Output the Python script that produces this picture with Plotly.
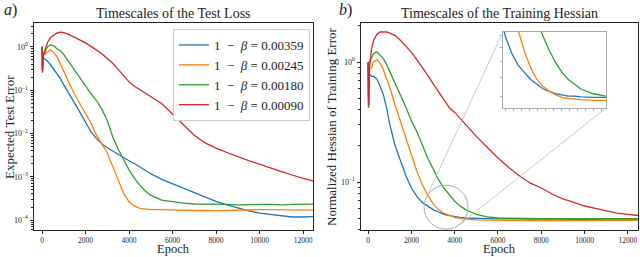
import math
import numpy as np
import plotly.graph_objects as go

# ---------------- data (log10 of the plotted values) ----------------
EPOCHS = [0, 20, 60, 150, 250, 400, 550, 700, 850, 1000, 1250, 1500, 1750, 2000,
          2250, 2500, 2750, 3000, 3250, 3500, 3750, 4000, 4250, 4500, 4750, 5000,
          5500, 6000, 6500, 7000, 7500, 8000, 8500, 9000, 9500, 10000, 10500,
          11000, 11500, 12000, 12500]

NB = "\u00a0"
LABELS = [f"1{NB}{NB}−{NB}{NB}<i>β</i>{NB}={NB}0.00359",
          f"1{NB}{NB}−{NB}{NB}<i>β</i>{NB}={NB}0.00245",
          f"1{NB}{NB}−{NB}{NB}<i>β</i>{NB}={NB}0.00180",
          f"1{NB}{NB}−{NB}{NB}<i>β</i>{NB}={NB}0.00090"]
COLORS = ["#1f77b4", "#ff7f0e", "#2ca02c", "#d62728"]

# Panel a) expected test error (log10)
TEST_LOG10_00359 = [0.0, -0.60, -0.26, -0.30, -0.33, -0.42, -0.52, -0.62, -0.74, -0.88,
                    -1.08, -1.30, -1.52, -1.75, -1.96, -2.12, -2.24, -2.33, -2.41, -2.48,
                    -2.56, -2.63, -2.70, -2.78, -2.86, -2.93, -3.06, -3.16, -3.26, -3.37,
                    -3.47, -3.57, -3.65, -3.72, -3.79, -3.84, -3.87, -3.90, -3.93, -3.93, -3.92]
TEST_LOG10_00245 = [0.0, -0.55, -0.15, -0.17, -0.12, -0.07, -0.14, -0.24, -0.40, -0.58,
                    -0.84, -1.10, -1.33, -1.53, -1.76, -2.04, -2.24, -2.45, -2.76, -3.08,
                    -3.38, -3.58, -3.68, -3.73, -3.75, -3.76, -3.76, -3.77, -3.78, -3.78,
                    -3.78, -3.79, -3.78, -3.77, -3.76, -3.76, -3.76, -3.76, -3.76, -3.77, -3.77]
TEST_LOG10_00180 = [0.0, -0.55, -0.20, -0.10, 0.0, 0.05, 0.02, -0.05, -0.09, -0.18,
                    -0.36, -0.55, -0.74, -0.92, -1.08, -1.24, -1.44, -1.70, -2.08, -2.36,
                    -2.60, -2.84, -3.04, -3.20, -3.33, -3.43, -3.54, -3.58, -3.61, -3.63,
                    -3.63, -3.64, -3.64, -3.65, -3.64, -3.64, -3.64, -3.65, -3.64, -3.64, -3.63]
TEST_LOG10_00090 = [0.0, -0.55, -0.20, -0.08, 0.10, 0.22, 0.28, 0.32, 0.34, 0.33,
                    0.28, 0.22, 0.16, 0.09, 0.01, -0.07, -0.16, -0.27, -0.38, -0.52,
                    -0.67, -0.81, -0.91, -0.99, -1.08, -1.16, -1.31, -1.55, -1.80, -2.04,
                    -2.22, -2.34, -2.44, -2.54, -2.63, -2.71, -2.80, -2.88, -2.96, -3.04, -3.10]

# Panel b) normalized Hessian of training error (log10)
HESS_LOG10_00359 = [0.0, -0.38, -0.10, -0.12, -0.12, -0.14, -0.20, -0.27, -0.38, -0.52,
                    -0.70, -0.83, -0.95, -1.05, -1.12, -1.17, -1.20, -1.23, -1.25, -1.27,
                    -1.28, -1.29, -1.295, -1.30, -1.30, -1.303, -1.305, -1.307, -1.305, -1.308,
                    -1.31, -1.308, -1.31, -1.31, -1.312, -1.31, -1.31, -1.312, -1.31, -1.31, -1.31]
HESS_LOG10_00245 = [0.0, -0.38, -0.05, -0.05, 0.0, 0.02, -0.01, -0.06, -0.14, -0.21,
                    -0.36, -0.50, -0.63, -0.78, -0.91, -1.02, -1.11, -1.18, -1.23, -1.26,
                    -1.28, -1.295, -1.305, -1.31, -1.313, -1.315, -1.318, -1.32, -1.32, -1.322,
                    -1.32, -1.322, -1.32, -1.322, -1.32, -1.322, -1.32, -1.32, -1.322, -1.32, -1.32]
HESS_LOG10_00180 = [0.0, -0.38, 0.0, 0.03, 0.07, 0.085, 0.06, 0.03, -0.02, -0.08,
                    -0.18, -0.27, -0.38, -0.49, -0.58, -0.69, -0.80, -0.89, -0.98, -1.05,
                    -1.11, -1.16, -1.20, -1.23, -1.25, -1.27, -1.29, -1.30, -1.302, -1.305,
                    -1.303, -1.305, -1.306, -1.305, -1.306, -1.305, -1.306, -1.305, -1.305, -1.306, -1.305]
HESS_LOG10_00090 = [0.0, -0.36, -0.05, 0.10, 0.18, 0.23, 0.25, 0.25, 0.25, 0.24,
                    0.22, 0.18, 0.13, 0.08, 0.02, -0.04, -0.11, -0.18, -0.25, -0.32,
                    -0.38, -0.42, -0.47, -0.52, -0.57, -0.62, -0.71, -0.80, -0.88, -0.95,
                    -1.01, -1.05, -1.10, -1.14, -1.17, -1.20, -1.22, -1.24, -1.26, -1.27, -1.28]

TEST_SERIES = [TEST_LOG10_00359, TEST_LOG10_00245, TEST_LOG10_00180, TEST_LOG10_00090]
HESS_SERIES = [HESS_LOG10_00359, HESS_LOG10_00245, HESS_LOG10_00180, HESS_LOG10_00090]

X_TICKS = [0, 2000, 4000, 6000, 8000, 10000, 12000]
X_TICK_TEXT = ["0", "2000", "4000", "6000", "8000", "10000", "12000"]
LEFT_Y_TICKS = [1e-4, 1e-3, 1e-2, 1e-1, 1e0]
LEFT_Y_TEXT = ["10<sup>−4</sup>", "10<sup>−3</sup>", "10<sup>−2</sup>", "10<sup>−1</sup>", "10<sup>0</sup>"]
RIGHT_Y_TICKS = [1e-1, 1e0]
RIGHT_Y_TEXT = ["10<sup>−1</sup>", "10<sup>0</sup>"]

# ---------------- layout constants ----------------
W, H = 640, 257
FONT = "Liberation Serif"
L_DOM = [34 / W, 313 / W]
R_DOM = [361 / W, 638 / W]
Y_DOM = [27 / H, 234 / H]
INS_X = [503 / W, 606 / W]
INS_Y = [(H - 108) / H, (H - 32) / H]

L_XR = [-370, 12460]
L_YR = [-4.23, 0.55]
R_XR = [-330, 12470]
R_YR = [-1.40, 0.325]
I_XR = [1900, 6000]
I_YR = [-1.35, -1.03]


def minor_vals(lo, hi):
    out = []
    for e in range(math.floor(lo) - 1, math.ceil(hi) + 1):
        for k in range(2, 10):
            v = k * 10.0 ** e
            if lo <= math.log10(v) <= hi:
                out.append(v)
    return out


fig = go.Figure()
for i in range(4):
    fig.add_trace(go.Scatter(x=EPOCHS, y=np.power(10.0, TEST_SERIES[i]), mode="lines",
                             line=dict(color=COLORS[i], width=1.3), name=LABELS[i],
                             xaxis="x", yaxis="y", legendgroup=str(i)))
for i in range(4):
    fig.add_trace(go.Scatter(x=EPOCHS, y=np.power(10.0, HESS_SERIES[i]), mode="lines",
                             line=dict(color=COLORS[i], width=1.3), name=LABELS[i],
                             xaxis="x2", yaxis="y2", showlegend=False, legendgroup=str(i)))
for i in range(3):
    fig.add_trace(go.Scatter(x=EPOCHS, y=np.power(10.0, HESS_SERIES[i]), mode="lines",
                             line=dict(color=COLORS[i], width=1.3), name=LABELS[i],
                             xaxis="x3", yaxis="y3", showlegend=False, legendgroup=str(i)))

axis_common = dict(showline=True, mirror=True, linecolor="#222", linewidth=1,
                   showgrid=False, zeroline=False, ticks="outside",
                   tickwidth=0.8, tickcolor="#222")
xtickfont = dict(family=FONT, size=7.5, color="#222")
ytickfont = dict(family=FONT, size=8, color="#222")

fig.update_layout(
    width=W, height=H, margin=dict(l=0, r=0, t=0, b=0),
    paper_bgcolor="white", plot_bgcolor="white",
    font=dict(family=FONT, color="#222"),
    xaxis=dict(domain=L_DOM, range=L_XR, tickvals=X_TICKS, ticktext=X_TICK_TEXT,
               anchor="y", ticklen=2.5, tickfont=xtickfont, **axis_common),
    yaxis=dict(domain=Y_DOM, type="log", range=L_YR, tickvals=LEFT_Y_TICKS,
               ticktext=LEFT_Y_TEXT, anchor="x", ticklen=3.5, tickfont=ytickfont,
               minor=dict(tickmode="array", tickvals=minor_vals(*L_YR), ticks="outside",
                          ticklen=2, tickcolor="#222", tickwidth=0.6),
               **axis_common),
    xaxis2=dict(domain=R_DOM, range=R_XR, tickvals=X_TICKS, ticktext=X_TICK_TEXT,
                anchor="y2", ticklen=2.5, tickfont=xtickfont, **axis_common),
    yaxis2=dict(domain=Y_DOM, type="log", range=R_YR, tickvals=RIGHT_Y_TICKS,
                ticktext=RIGHT_Y_TEXT, anchor="x2", ticklen=3.5, tickfont=ytickfont,
                minor=dict(tickmode="array", tickvals=minor_vals(*R_YR), ticks="outside",
                           ticklen=2, tickcolor="#222", tickwidth=0.6),
                **axis_common),
    xaxis3=dict(domain=INS_X, range=I_XR, anchor="y3", showline=True, mirror=True,
                linecolor="#aaa", linewidth=1, showgrid=False, zeroline=False,
                ticks="outside", ticklen=2, tickcolor="#aaa", showticklabels=False,
                tick0=2000, dtick=320),
    yaxis3=dict(domain=INS_Y, type="log", range=I_YR, anchor="x3", showline=True,
                mirror=True, linecolor="#aaa", linewidth=1, showgrid=False,
                zeroline=False, ticks="outside", ticklen=2, tickcolor="#aaa",
                showticklabels=False, tickvals=minor_vals(*I_YR)),
    legend=dict(x=310 / W, xanchor="right", y=(H - 29) / H, yanchor="top",
                bgcolor="white", bordercolor="#cccccc", borderwidth=1,
                font=dict(family=FONT, size=13, color="#222"),
                itemwidth=30, tracegroupgap=0),
    showlegend=True,
)

# titles and labels
ann = [
    dict(text="Timescales of the Test Loss", x=(L_DOM[0] + L_DOM[1]) / 2, y=(H - 13) / H, size=14),
    dict(text="Timescales of the Training Hessian", x=(R_DOM[0] + R_DOM[1]) / 2, y=(H - 13) / H, size=14),
    dict(text="Epoch", x=(L_DOM[0] + L_DOM[1]) / 2, y=0, size=12.5, yanchor="bottom"),
    dict(text="Epoch", x=(R_DOM[0] + R_DOM[1]) / 2, y=0, size=12.5, yanchor="bottom"),
    dict(text="Expected Test Error", x=9 / W, y=(H - 127) / H, size=13, angle=-90),
    dict(text="Normalized Hessian of Training Error", x=331 / W, y=(H - 127) / H, size=13, angle=-90),
    dict(text="<i>a</i>)", x=10 / W, y=(H - 10) / H, size=16),
    dict(text="<i>b</i>)", x=345 / W, y=(H - 10) / H, size=16),
]
for a in ann:
    fig.add_annotation(text=a["text"], x=a["x"], y=a["y"], xref="paper", yref="paper",
                       showarrow=False, xanchor="center", yanchor=a.get("yanchor", "middle"),
                       textangle=a.get("angle", 0), borderpad=0,
                       font=dict(family=FONT, size=a["size"], color="#222"))

# zoom circle in right panel + connector lines to inset
CIRC_X, CIRC_LOGY, CIRC_R_PX = 3600, -1.21, 22
pw = (R_DOM[1] - R_DOM[0]) * W
ph = (Y_DOM[1] - Y_DOM[0]) * H
cx = R_DOM[0] * W + (CIRC_X - R_XR[0]) / (R_XR[1] - R_XR[0]) * pw
cy = H - (Y_DOM[0] * H + (CIRC_LOGY - R_YR[0]) / (R_YR[1] - R_YR[0]) * ph)
fig.add_shape(type="circle", xref="paper", yref="paper",
              x0=(cx - CIRC_R_PX) / W, x1=(cx + CIRC_R_PX) / W,
              y0=(H - (cy + CIRC_R_PX)) / H, y1=(H - (cy - CIRC_R_PX)) / H,
              line=dict(color="#aaa", width=1))


def tangent(px, py, pick):
    vx, vy = px - cx, py - cy
    d = math.hypot(vx, vy)
    base = math.atan2(vy, vx)
    a = math.acos(CIRC_R_PX / d)
    pts = [(cx + CIRC_R_PX * math.cos(base + s * a), cy + CIRC_R_PX * math.sin(base + s * a)) for s in (1, -1)]
    return pick(pts)


corner1 = (INS_X[0] * W, H - INS_Y[1] * H)   # inset top-left
corner2 = (INS_X[1] * W, H - INS_Y[0] * H)   # inset bottom-right
t1 = tangent(*corner1, lambda p: min(p, key=lambda q: q[0]))
t2 = tangent(*corner2, lambda p: max(p, key=lambda q: q[1]))
for c, t in ((corner1, t1), (corner2, t2)):
    fig.add_shape(type="line", xref="paper", yref="paper",
                  x0=c[0] / W, y0=(H - c[1]) / H, x1=t[0] / W, y1=(H - t[1]) / H,
                  line=dict(color="#bbb", width=0.8))

fig.write_html("out.html", config={"displayModeBar": False},
               post_script="document.body.style.margin='0';document.body.style.padding='0';")
